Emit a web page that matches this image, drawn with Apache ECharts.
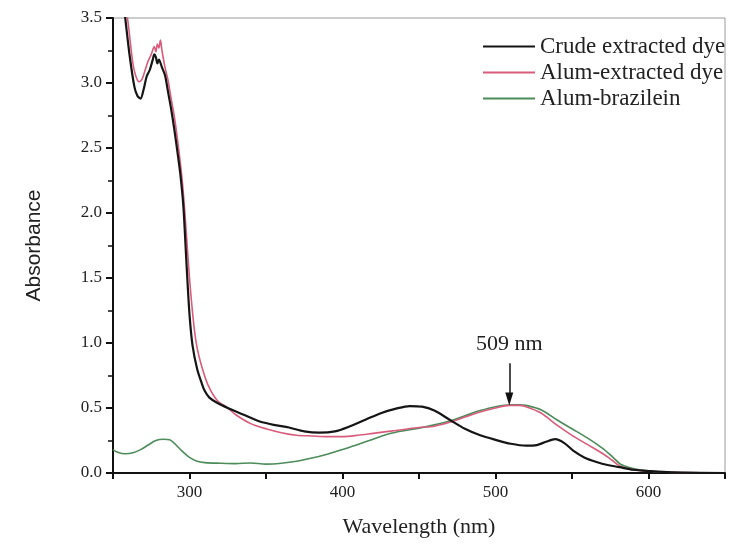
<!DOCTYPE html>
<html>
<head>
<meta charset="utf-8">
<script src="https://cdn.jsdelivr.net/npm/echarts@6/dist/echarts.min.js"></script>
<style>
  html, body { margin: 0; padding: 0; background: #fff; }
  #chart { width: 729px; height: 545px; }
</style>
</head>
<body>
<div id="chart"></div>
<script>
// UV-Vis absorption spectra (wavelength in nm, absorbance)
const crudeNm  = [250, 255, 258, 261, 264, 266, 268, 270, 272, 274, 276, 277, 278, 279, 280, 282, 284, 286, 288, 290, 292, 294, 296, 298, 300, 302, 305, 308, 310, 313, 318, 325, 335, 345, 355, 365, 375, 385, 395, 405, 415, 425, 435, 444, 452, 460, 470, 480, 490, 500, 510, 520, 527, 533, 539, 545, 551, 558, 566, 574, 581, 590, 600, 615, 650];
const crudeAbs = [4.5, 3.8, 3.5, 3.2, 2.97, 2.9, 2.88, 2.95, 3.05, 3.1, 3.18, 3.22, 3.2, 3.15, 3.18, 3.12, 3.06, 2.93, 2.8, 2.65, 2.48, 2.3, 2.05, 1.62, 1.22, 0.98, 0.8, 0.69, 0.63, 0.58, 0.54, 0.5, 0.45, 0.4, 0.37, 0.35, 0.32, 0.31, 0.32, 0.36, 0.41, 0.46, 0.495, 0.515, 0.51, 0.48, 0.41, 0.34, 0.29, 0.255, 0.225, 0.21, 0.215, 0.24, 0.26, 0.23, 0.17, 0.12, 0.085, 0.06, 0.045, 0.025, 0.015, 0.005, 0.0];

const alumNm  = [250, 255, 260, 263, 265, 267, 269, 271, 273, 275, 277, 278, 279, 280, 281, 282, 284, 286, 288, 290, 292, 295, 297, 300, 303, 305, 308, 312, 318, 325, 330, 340, 350, 360, 370, 380, 390, 400, 410, 420, 430, 440, 450, 460, 470, 480, 490, 500, 509, 515, 520, 530, 540, 550, 560, 570, 576, 581, 588, 600, 615, 650];
const alumAbs = [4.5, 3.9, 3.45, 3.15, 3.05, 3.01, 3.03, 3.1, 3.17, 3.22, 3.28, 3.24, 3.3, 3.27, 3.33, 3.25, 3.12, 3.02, 2.88, 2.75, 2.58, 2.28, 2.0, 1.5, 1.12, 0.96, 0.82, 0.68, 0.56, 0.5, 0.45, 0.38, 0.34, 0.31, 0.29, 0.285, 0.28, 0.28, 0.29, 0.305, 0.32, 0.335, 0.35, 0.36, 0.39, 0.43, 0.47, 0.5, 0.52, 0.52, 0.51, 0.46, 0.37, 0.29, 0.22, 0.15, 0.1, 0.055, 0.03, 0.015, 0.005, 0.0];

const brazNm  = [250, 253, 258, 263, 268, 273, 278, 283, 287, 290, 295, 300, 305, 310, 320, 330, 340, 350, 360, 370, 380, 390, 400, 410, 420, 430, 440, 450, 460, 470, 480, 490, 500, 510, 515, 520, 530, 540, 550, 560, 570, 576, 582, 590, 600, 615, 650];
const brazAbs = [0.18, 0.16, 0.148, 0.155, 0.18, 0.215, 0.25, 0.26, 0.255, 0.23, 0.17, 0.12, 0.09, 0.08, 0.075, 0.072, 0.077, 0.068, 0.075, 0.09, 0.115, 0.145, 0.18, 0.22, 0.26, 0.3, 0.325, 0.345, 0.37, 0.4, 0.44, 0.48, 0.51, 0.525, 0.525, 0.52, 0.485, 0.41, 0.34, 0.27, 0.19, 0.13, 0.065, 0.035, 0.015, 0.005, 0.0];

const seriesNames = ['Crude extracted dye', 'Alum-extracted dye', 'Alum-brazilein'];
const seriesColors = ['#151515', '#d85c7c', '#4c8c5a'];

// absorption maximum marked with an arrow
const peakLabel = '509 nm';
const peakNm = 509;
const arrowTopAbs = 0.845;
const arrowTipAbs = 0.57;

const zip = (xs, ys) => xs.map((x, i) => [x, ys[i]]);

const serif = '"Liberation Serif", "DejaVu Serif", serif';
const sans = '"Liberation Sans", Arial, sans-serif';

const chart = echarts.init(document.getElementById('chart'), null, { renderer: 'canvas' });

chart.setOption({
  animation: false,
  backgroundColor: '#ffffff',
  grid: {
    left: 113, right: 4, top: 18, bottom: 72,
    show: true, borderColor: '#9a9a9a', borderWidth: 1, backgroundColor: 'transparent'
  },
  legend: {
    orient: 'vertical',
    left: 478, top: 30,
    itemWidth: 52, itemHeight: 2, itemGap: 3,
    icon: 'rect',
    data: seriesNames,
    textStyle: { fontFamily: serif, fontSize: 23, color: '#222', lineHeight: 22 }
  },
  xAxis: {
    type: 'value',
    min: 250, max: 650, interval: 50,
    name: 'Wavelength (nm)',
    nameLocation: 'middle', nameGap: 43,
    nameTextStyle: { fontFamily: serif, fontSize: 22, color: '#222' },
    axisLine: { show: true, onZero: false, lineStyle: { color: '#111', width: 2 } },
    axisTick: { show: true, inside: false, length: 6, lineStyle: { color: '#111', width: 2 } },
    axisLabel: {
      fontFamily: serif, fontSize: 17, color: '#222', margin: 11,
      formatter: v => (v % 100 === 0 && v > 250 && v < 650) ? String(v) : ''
    },
    splitLine: { show: false }
  },
  yAxis: {
    type: 'value',
    min: 0, max: 3.5, interval: 0.5,
    name: 'Absorbance',
    nameLocation: 'middle', nameGap: 68, nameRotate: 90,
    nameTextStyle: { fontFamily: sans, fontSize: 21, color: '#222' },
    axisLine: { show: true, onZero: false, lineStyle: { color: '#111', width: 2 } },
    axisTick: { show: true, inside: false, length: 7, lineStyle: { color: '#111', width: 2 } },
    minorTick: { show: true, splitNumber: 2, length: 5, lineStyle: { color: '#111', width: 1.5 } },
    axisLabel: {
      fontFamily: serif, fontSize: 17, color: '#222', margin: 11,
      formatter: v => v.toFixed(1)
    },
    splitLine: { show: false }
  },
  series: [
    {
      name: seriesNames[0], type: 'line', data: zip(crudeNm, crudeAbs),
      showSymbol: false, symbol: 'none', smooth: 0.3, clip: true, z: 4,
      lineStyle: { color: seriesColors[0], width: 2.2 },
      itemStyle: { color: seriesColors[0] },
      markLine: {
        silent: true,
        symbol: ['none', 'triangle'],
        symbolSize: [8, 13],
        lineStyle: { color: '#111', width: 1.5, type: 'solid' },
        label: {
          show: true, position: 'start', distance: 8,
          formatter: peakLabel,
          fontFamily: serif, fontSize: 22, color: '#222'
        },
        emphasis: { disabled: true },
        data: [[{ coord: [peakNm, arrowTopAbs] }, { coord: [peakNm, arrowTipAbs] }]]
      }
    },
    {
      name: seriesNames[1], type: 'line', data: zip(alumNm, alumAbs),
      showSymbol: false, symbol: 'none', smooth: 0.3, clip: true, z: 3,
      lineStyle: { color: seriesColors[1], width: 1.6 },
      itemStyle: { color: seriesColors[1] }
    },
    {
      name: seriesNames[2], type: 'line', data: zip(brazNm, brazAbs),
      showSymbol: false, symbol: 'none', smooth: 0.3, clip: true, z: 2,
      lineStyle: { color: seriesColors[2], width: 1.6 },
      itemStyle: { color: seriesColors[2] }
    }
  ]
});
</script>
</body>
</html>
